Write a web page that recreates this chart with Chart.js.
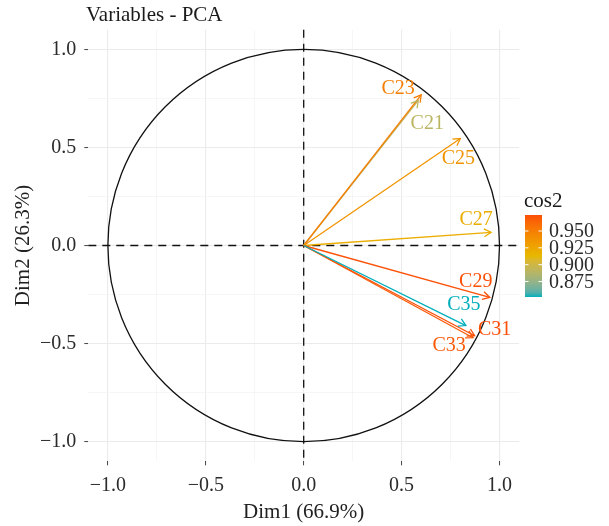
<!DOCTYPE html>
<html>
<head>
<meta charset="UTF-8">
<title>Variables - PCA</title>
<script src="https://cdn.jsdelivr.net/npm/chart.js"></script>
<style>
  html, body { margin: 0; padding: 0; background: #fff; }
  #wrap { width: 609px; height: 526px; }
</style>
</head>
<body>
<div id="wrap"><canvas id="pca"></canvas></div>
<script>
// coordinates of the variables on Dim1 / Dim2
const variables = ['C21', 'C23', 'C25', 'C27', 'C29', 'C31', 'C33', 'C35'];
const dim1 = [0.585, 0.60, 0.80, 0.957, 0.95, 0.873, 0.865, 0.828];
const dim2 = [0.74, 0.768, 0.545, 0.067, -0.265, -0.46, -0.47, -0.408];

const axisTicks = [-1, -0.5, 0, 0.5, 1];
const axisTickLabels = ['−1.0', '−0.5', '0.0', '0.5', '1.0'];
const minorTicks = [-0.75, -0.25, 0.25, 0.75];

const cos2Ticks = [0.875, 0.9, 0.925, 0.95];
const cos2TickLabels = ['0.875', '0.900', '0.925', '0.950'];

// where the repelled labels sit relative to the arrow tips (px)
const labelNudge = {
  C21: [9, 23], C23: [-23, -6], C25: [-2, 20], C27: [-15, -13],
  C29: [-14, -16], C31: [20, -6], C33: [-24, 8], C35: [-2, -21]
};

const FONT = "'Liberation Serif', 'Times New Roman', serif";
const gradHex = ['#00AFBB', '#E7B800', '#FC4E07'];

// cos2 = squared length on the two dims
const cos2 = variables.map((v, i) => dim1[i] * dim1[i] + dim2[i] * dim2[i]);
const cosMin = Math.min(...cos2), cosMax = Math.max(...cos2);

// --- colour ramp in CIE Lab, like ggplot's gradient ---
function hexToRgb(h) {
  return [1, 3, 5].map(k => parseInt(h.substr(k, 2), 16));
}
function rgbToLab(rgb) {
  const lin = rgb.map(c => {
    c /= 255;
    return c <= 0.04045 ? c / 12.92 : Math.pow((c + 0.055) / 1.055, 2.4);
  });
  let X = (lin[0] * 0.4124 + lin[1] * 0.3576 + lin[2] * 0.1805) / 0.95047;
  let Y = (lin[0] * 0.2126 + lin[1] * 0.7152 + lin[2] * 0.0722);
  let Z = (lin[0] * 0.0193 + lin[1] * 0.1192 + lin[2] * 0.9505) / 1.08883;
  const f = t => t > 0.008856 ? Math.cbrt(t) : 7.787 * t + 16 / 116;
  X = f(X); Y = f(Y); Z = f(Z);
  return [116 * Y - 16, 500 * (X - Y), 200 * (Y - Z)];
}
function labToRgb(lab) {
  const fy = (lab[0] + 16) / 116, fx = fy + lab[1] / 500, fz = fy - lab[2] / 200;
  const g = t => t * t * t > 0.008856 ? t * t * t : (t - 16 / 116) / 7.787;
  const X = g(fx) * 0.95047, Y = g(fy), Z = g(fz) * 1.08883;
  const r = X * 3.2406 + Y * -1.5372 + Z * -0.4986;
  const gg = X * -0.9689 + Y * 1.8758 + Z * 0.0415;
  const b = X * 0.0557 + Y * -0.2040 + Z * 1.0570;
  return [r, gg, b].map(c => {
    c = c <= 0.0031308 ? 12.92 * c : 1.055 * Math.pow(c, 1 / 2.4) - 0.055;
    return Math.max(0, Math.min(255, Math.round(c * 255)));
  });
}
const gradLab = gradHex.map(h => rgbToLab(hexToRgb(h)));

function rampColor(t) {
  t = Math.max(0, Math.min(1, t));
  let a, b, f;
  if (t < 0.5) { a = gradLab[0]; b = gradLab[1]; f = t * 2; }
  else { a = gradLab[1]; b = gradLab[2]; f = (t - 0.5) * 2; }
  const lab = a.map((x, k) => x + (b[k] - x) * f);
  return 'rgb(' + labToRgb(lab).join(',') + ')';
}
const cosColor = c => rampColor((c - cosMin) / (cosMax - cosMin));
const colors = cos2.map(cosColor);

const isMajor = v => axisTicks.some(t => Math.abs(t - v) < 1e-9);

const datasets = variables.map((name, i) => ({
  label: name,
  data: [{x: 0, y: 0}, {x: dim1[i], y: dim2[i]}],
  showLine: true,
  borderColor: colors[i],
  borderWidth: 1.3,
  pointRadius: 0,
  fill: false,
  order: -i   // later variables on top, like ggplot
}));

function axisOpts(titleText, isX) {
  return {
    type: 'linear',
    min: -1.1,
    max: 1.1,
    afterBuildTicks: s => {
      s.ticks = axisTicks.concat(minorTicks).sort((a, b) => a - b).map(v => ({value: v}));
    },
    afterFit: s => {
      if (isX) s.height = 64.7; else s.width = 88.3;
    },
    ticks: {
      autoSkip: false,
      maxRotation: 0,
      padding: 8,
      color: '#2b2b2b',
      font: {family: FONT, size: 20},
      callback: v => {
        const k = axisTicks.findIndex(t => Math.abs(t - v) < 1e-9);
        return k >= 0 ? axisTickLabels[k] : '';
      }
    },
    grid: {
      color: ctx => isMajor(ctx.tick.value) ? '#EBEBEB' : '#F2F2F2',
      lineWidth: ctx => isMajor(ctx.tick.value) ? 1.1 : 0.7,
      tickLength: 4,
      tickWidth: 1,
      tickColor: ctx => isMajor(ctx.tick.value) ? '#444' : 'rgba(0,0,0,0)'
    },
    border: {display: false},
    title: {
      display: true,
      text: titleText,
      color: '#222',
      font: {family: FONT, size: 21},
      padding: isX ? {top: 0, bottom: 1} : {top: 11, bottom: 0}
    }
  };
}

const pcaPlugin = {
  id: 'pcaExtras',
  beforeDatasetsDraw(chart) {
    const {ctx, scales: {x, y}} = chart;
    const cx = x.getPixelForValue(0), cy = y.getPixelForValue(0);
    const rx = x.getPixelForValue(1) - cx, ry = cy - y.getPixelForValue(1);
    ctx.save();
    // correlation circle
    ctx.strokeStyle = '#111';
    ctx.lineWidth = 1.3;
    ctx.beginPath();
    ctx.ellipse(cx, cy, rx, ry, 0, 0, Math.PI * 2);
    ctx.stroke();
    // dashed zero lines
    ctx.setLineDash([8, 6]);
    ctx.beginPath();
    ctx.moveTo(chart.chartArea.left, cy);
    ctx.lineTo(chart.chartArea.right, cy);
    ctx.moveTo(cx, chart.chartArea.top);
    ctx.lineTo(cx, chart.chartArea.bottom);
    ctx.stroke();
    ctx.restore();
  },
  afterDatasetsDraw(chart) {
    const {ctx, scales: {x, y}} = chart;
    const ox = x.getPixelForValue(0), oy = y.getPixelForValue(0);
    ctx.save();
    // arrow heads
    variables.forEach((name, i) => {
      const tx = x.getPixelForValue(dim1[i]), ty = y.getPixelForValue(dim2[i]);
      const ang = Math.atan2(ty - oy, tx - ox);
      const len = 8, spread = Math.PI / 6;
      ctx.strokeStyle = colors[i];
      ctx.lineWidth = 1.3;
      ctx.beginPath();
      ctx.moveTo(tx - len * Math.cos(ang - spread), ty - len * Math.sin(ang - spread));
      ctx.lineTo(tx, ty);
      ctx.lineTo(tx - len * Math.cos(ang + spread), ty - len * Math.sin(ang + spread));
      ctx.stroke();
    });
    // labels
    ctx.font = '20px ' + FONT;
    ctx.textAlign = 'center';
    ctx.textBaseline = 'middle';
    variables.forEach((name, i) => {
      const tx = x.getPixelForValue(dim1[i]), ty = y.getPixelForValue(dim2[i]);
      const n = labelNudge[name];
      ctx.fillStyle = colors[i];
      ctx.fillText(name, tx + n[0], ty + n[1]);
    });

    // title
    ctx.fillStyle = '#1a1a1a';
    ctx.font = '21px ' + FONT;
    ctx.textAlign = 'left';
    ctx.textBaseline = 'alphabetic';
    ctx.fillText('Variables - PCA', 86, 21);

    // colour bar legend
    const bx = 525, bw = 17, bTop = 215, bBot = 297;
    const g = ctx.createLinearGradient(0, bBot, 0, bTop);
    for (let s = 0; s <= 20; s++) g.addColorStop(s / 20, rampColor(s / 20));
    ctx.fillStyle = g;
    ctx.fillRect(bx, bTop, bw, bBot - bTop);
    ctx.fillStyle = '#1a1a1a';
    ctx.font = '21px ' + FONT;
    ctx.fillText('cos2', 524, 207);
    ctx.font = '20px ' + FONT;
    ctx.textBaseline = 'middle';
    cos2Ticks.forEach((v, k) => {
      const py = bBot - (v - cosMin) / (cosMax - cosMin) * (bBot - bTop);
      ctx.strokeStyle = '#fff';
      ctx.lineWidth = 1;
      ctx.beginPath();
      ctx.moveTo(bx, py); ctx.lineTo(bx + 3.5, py);
      ctx.moveTo(bx + bw - 3.5, py); ctx.lineTo(bx + bw, py);
      ctx.stroke();
      ctx.fillStyle = '#2b2b2b';
      ctx.fillText(cos2TickLabels[k], 549, py + 1);
    });
    ctx.restore();
  }
};

new Chart(document.getElementById('pca').getContext('2d'), {
  type: 'scatter',
  data: {datasets: datasets},
  options: {
    responsive: true,
    maintainAspectRatio: false,
    animation: false,
    layout: {padding: {top: 29.7, right: 89.9, left: 0, bottom: 0}},
    plugins: {legend: {display: false}, tooltip: {enabled: false}, title: {display: false}},
    scales: {
      x: axisOpts('Dim1 (66.9%)', true),
      y: axisOpts('Dim2 (26.3%)', false)
    }
  },
  plugins: [pcaPlugin]
});
</script>
</body>
</html>
